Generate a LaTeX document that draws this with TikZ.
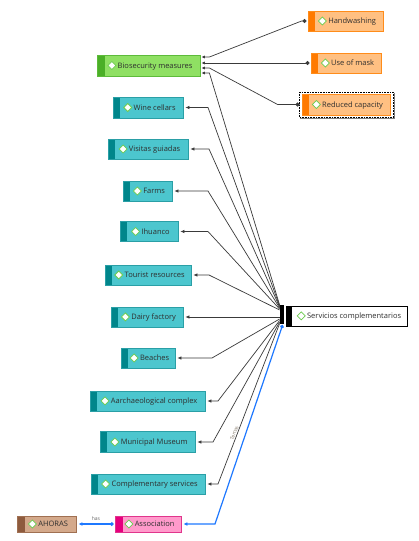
\documentclass[tikz,border=0pt]{standalone}
\usepackage{fontspec}
\setmainfont{Open Sans}
\usetikzlibrary{arrows.meta,calc}
\definecolor{txtc}{HTML}{2E2E2E}
\definecolor{linec}{HTML}{3A3A3A}
\definecolor{diagr}{HTML}{6CCB4F}
\definecolor{cyfill}{HTML}{4CC6CE}
\definecolor{cyborder}{HTML}{2A9FA6}
\definecolor{cybar}{HTML}{00868B}
\definecolor{grfill}{HTML}{8FE063}
\definecolor{grborder}{HTML}{5DBB3A}
\definecolor{grbar}{HTML}{4BAF27}
\definecolor{orfill}{HTML}{FFC082}
\definecolor{orborder}{HTML}{FF8C1A}
\definecolor{orbar}{HTML}{FF7A00}
\definecolor{pkfill}{HTML}{FF9ACB}
\definecolor{pkborder}{HTML}{E0358C}
\definecolor{pkbar}{HTML}{E6007E}
\definecolor{tnfill}{HTML}{D4A98B}
\definecolor{tnborder}{HTML}{A07052}
\definecolor{tnbar}{HTML}{8E5B3E}
\definecolor{bluec}{HTML}{1E78FF}
\definecolor{labc}{HTML}{8A7F70}
\newcommand{\dia}{\tikz[baseline=-2.7pt]\draw[diagr,fill=white,line width=0.75pt] (0pt,-4pt)--(4pt,0pt)--(0pt,4pt)--(-4pt,0pt)--cycle;}
\newcommand{\lab}[1]{\hspace*{3pt}\dia\hspace{1.5pt}#1}
\newcommand{\nodefont}{\fontsize{7.5}{9}\selectfont}
\tikzset{
  ent/.style n args={4}{draw=#2, fill=#1, line width=0.8pt, text=txtc,
    inner sep=1pt, minimum height=20pt, font=\nodefont,
    path picture={\fill[#3] (path picture bounding box.south west) rectangle ([xshift=#4]path picture bounding box.north west);}},
  cyanbox/.style={ent={cyfill}{cyborder}{cybar}{7pt}},
  greenbox/.style={ent={grfill}{grborder}{grbar}{8pt}},
  orangebox/.style={ent={orfill}{orborder}{orbar}{7pt}},
  pinkbox/.style={ent={pkfill}{pkborder}{pkbar}{8pt}},
  tanbox/.style={ent={tnfill}{tnborder}{tnbar}{8pt}},
  hubbox/.style={ent={white}{black}{black}{6pt}},
  conn/.style={draw=linec, line width=0.7pt, -{Latex[length=4pt,width=3.6pt]}},
  bioconn/.style={draw=linec, line width=0.7pt, {Latex[length=3.5pt,width=3.2pt]}-{Circle[length=4pt]}},
  bluecon/.style={draw=bluec, line width=1.2pt},
  smalllab/.style={font=\fontsize{5}{6}\selectfont, text=labc, inner sep=0.8pt}
}
\begin{document}
\begin{tikzpicture}[x=1pt,y=-1pt]
\useasboundingbox[fill=white] (0,0) rectangle (418,541);

% nodes
\node[greenbox, minimum width=103pt, minimum height=21pt] (bio) at (148.5,65.5) {\lab{Biosecurity measures}};
\node[orangebox, minimum width=75pt] (hand) at (345.5,21) {\lab{Handwashing}};
\node[orangebox, minimum width=70pt] (mask) at (346,63) {\lab{Use of mask}};
\node[orangebox, minimum width=88pt, minimum height=21pt] (reduced) at (346,104.5) {\lab{Reduced capacity}};
\node[cyanbox, minimum width=70pt, minimum height=21pt] (wine) at (148,107.5) {\lab{Wine cellars}};
\node[cyanbox, minimum width=80pt] (visitas) at (148,149) {\lab{Visitas guiadas}};
\node[cyanbox, minimum width=49pt] (farms) at (147.5,191) {\lab{Farms}};
\node[cyanbox, minimum width=58pt] (ihuanco) at (149,231.5) {\lab{Ihuanco}};
\node[cyanbox, minimum width=86pt] (tourist) at (148,275) {\lab{Tourist resources}};
\node[cyanbox, minimum width=72pt] (dairy) at (147,317) {\lab{Dairy factory}};
\node[cyanbox, minimum width=54pt] (beaches) at (148,358) {\lab{Beaches}};
\node[cyanbox, minimum width=115pt] (aarch) at (147.5,401) {\lab{Aarchaeological complex}};
\node[cyanbox, minimum width=95pt, minimum height=21pt] (muni) at (147.5,442) {\lab{Municipal Museum}};
\node[cyanbox, minimum width=114pt] (comp) at (148,484) {\lab{Complementary services}};
\node[pinkbox, minimum width=66pt, minimum height=16pt] (assoc) at (148,524) {\lab{Association}};
\node[tanbox, minimum width=59pt, minimum height=16pt] (ahoras) at (46.5,524) {\lab{AHORAS}};
\node[hubbox, minimum width=121pt] (hub) at (346.5,316) {\hspace*{5pt}\dia\hspace{1.5pt}Servicios complementarios};

% selection frame
\draw[black, densely dotted, line width=0.6pt] ([shift={(-2pt,1.5pt)}]reduced.north west) rectangle ([shift={(3pt,-2pt)}]reduced.south east);
\draw[gray, line width=0.5pt] ([shift={(3.8pt,1pt)}]reduced.north east) -- ([shift={(3.8pt,-2.8pt)}]reduced.south east) -- ([shift={(-1.5pt,-2.8pt)}]reduced.south west);

% hub endpoint strip
\fill[black] ([xshift=-6pt,yshift=1pt]hub.north west) rectangle ([xshift=-2pt,yshift=2pt]hub.south west);

% biosecurity relations
\draw[bioconn] ([xshift=1pt,yshift=8.5pt]bio.east) -- ++(8pt,0pt) -- ([xshift=-6pt]hand.west) -- ([xshift=-1pt]hand.west);
\draw[bioconn] ([xshift=1pt,yshift=2.5pt]bio.east) -- ([xshift=-1pt]mask.west);
\draw[bioconn] ([xshift=1pt,yshift=-2.5pt]bio.east) -- ++(8pt,0pt) -- ([xshift=-24pt]reduced.west) -- ([xshift=-2pt]reduced.west);
\draw[draw=linec, line width=0.7pt, {Latex[length=3.5pt,width=3.2pt]}-] ([xshift=1pt,yshift=-7.5pt]bio.east) -- ++(8pt,0pt) -- ([xshift=-6pt,yshift=11pt]hub.west);

% hub relations
\draw[conn] ([xshift=-6pt,yshift=10pt]hub.west) -- (208,0 |- wine.east) -- ([xshift=2pt]wine.east);
\draw[conn] ([xshift=-6pt,yshift=9pt]hub.west) -- (209,0 |- visitas.east) -- ([xshift=2pt]visitas.east);
\draw[conn] ([xshift=-6pt,yshift=8pt]hub.west) -- (208,0 |- farms.east) -- ([xshift=2pt]farms.east);
\draw[conn] ([xshift=-6pt,yshift=7pt]hub.west) -- (208,0 |- ihuanco.east) -- ([xshift=2pt]ihuanco.east);
\draw[conn] ([xshift=-6pt,yshift=6pt]hub.west) -- (209,0 |- tourist.east) -- ([xshift=2pt]tourist.east);
\draw[conn] ([xshift=-6pt]hub.west |- dairy.east) -- ([xshift=2pt]dairy.east);
\draw[conn] ([xshift=-6pt,yshift=-3pt]hub.west) -- (212,0 |- beaches.east) -- ([xshift=2pt]beaches.east);
\draw[conn] ([xshift=-6pt,yshift=-4.5pt]hub.west) -- (218,0 |- aarch.east) -- ([xshift=2pt]aarch.east);
\draw[conn] ([xshift=-6pt,yshift=-6pt]hub.west) -- (213,0 |- muni.east) -- ([xshift=2pt]muni.east);
\draw[conn] ([xshift=-6pt,yshift=-7.5pt]hub.west) -- node[pos=0.69, sloped, above, smalllab]{Temas} (218,0 |- comp.east) -- ([xshift=2pt]comp.east);

% blue relations
\draw[bluecon, {Latex[length=4pt,width=3.8pt]}-{Circle[length=3.6pt]}] ([xshift=2pt]assoc.east) -- (215,0 |- assoc.east) -- ([xshift=-3pt,yshift=-9pt]hub.west);
\draw[bluecon, {Latex[length=4pt,width=3.8pt]}-{Circle[length=3.6pt]}] ([xshift=2pt]ahoras.east) -- node[above=2.5pt, smalllab, text=gray!80!black]{has} ([xshift=-1pt]assoc.west);
\end{tikzpicture}
\end{document}
